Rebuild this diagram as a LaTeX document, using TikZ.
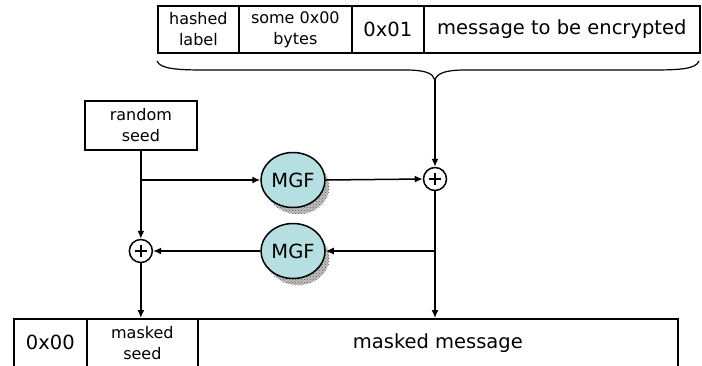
\documentclass[tikz,border=0pt]{standalone}
\usepackage{fontspec}
\setmainfont{DejaVu Sans}
\usetikzlibrary{shapes.geometric,arrows.meta,patterns}
\definecolor{mgfblue}{RGB}{182,223,226}
\tikzset{
  cell/.style={draw, line width=1.7pt, inner sep=0pt, anchor=north west, align=center,
    font=\fontsize{19.5}{22}\selectfont},
  smalltxt/.style={font=\fontsize{16}{21}\selectfont},
  wire/.style={line width=1.5pt},
  arr/.style={wire, -{Latex[length=8pt,width=7pt]}},
  xorop/.style={circle, draw, line width=1.5pt, minimum size=23pt, inner sep=0pt,
    path picture={\draw[line width=1.5pt]
      ([xshift=-6pt]path picture bounding box.center) -- ([xshift=6pt]path picture bounding box.center)
      ([yshift=-6pt]path picture bounding box.center) -- ([yshift=6pt]path picture bounding box.center);}},
  mgf/.style={ellipse, draw, line width=1.5pt, fill=mgfblue, minimum width=64pt, minimum height=55pt,
    inner sep=0pt, font=\fontsize{19.5}{22}\selectfont},
  grainbase/.style={fill=black!25},
  grain/.style={pattern=crosshatch dots, pattern color=black!65}
}
\begin{document}
\begin{tikzpicture}[x=1pt, y=-1pt]
\useasboundingbox (0,0) rectangle (702,365);
\clip (0,0) rectangle (702,365);

% input block: label hash, padding, separator, message
\node[cell, smalltxt, minimum width=81pt,  minimum height=47pt] (hl)  at (157,5) {hashed\\label};
\node[cell, smalltxt, minimum width=113pt, minimum height=47pt] (pad) at (238,5) {some 0x00\\bytes};
\node[cell, minimum width=72pt,  minimum height=47pt] (one) at (351,5) {0x01};
\node[cell, minimum width=276pt, minimum height=47pt] (msg) at (423,5) {message to be encrypted};

% brace gathering the whole data block
\coordinate (tip) at (435,80);
\draw[wire, line width=1.2pt] (157,61) .. controls (160,69) and (178,70) .. (205,70)
  -- (405,70) .. controls (425,70) and (433,73) .. (tip)
  .. controls (437,73) and (446,70) .. (465,70)
  -- (652,70) .. controls (680,70) and (696,69) .. (699,61);

% seed
\node[cell, smalltxt, minimum width=112pt, minimum height=49pt] (seed) at (84,100) {random\\seed};

% XOR points
\node[xorop] (xr) at (435,179) {};
\node[xorop] (xl) at (seed.south |- 0,251) {};

% mask generation functions with grainy shadows
\foreach \c in {(298,187),(298,258)}{
  \fill[grainbase] \c ellipse [x radius=31pt, y radius=27pt];
  \fill[grain] \c ellipse [x radius=32pt, y radius=27.5pt];
}
\node[mgf] (m1) at (293,180) {MGF};
\node[mgf] (m2) at (293,251) {MGF};

% output block
\node[cell, minimum width=73pt,  minimum height=48pt] (z)  at (13,318) {0x00};
\node[cell, smalltxt, minimum width=111pt, minimum height=48pt] (ms) at (86,318) {masked\\seed};
\node[cell, minimum width=480pt, minimum height=48pt] (mm) at (197,318) {masked message};

% connections
\coordinate (js) at (seed.south |- m1.west);
\coordinate (jm) at (xr.south |- m2.east);
\draw[arr] (tip) -- (xr.north);
\draw[arr] (seed.south) -- (xl.north);
\draw[arr] (js) -- (m1.west);
\draw[arr] (m1.east) -- (xr.west);
\draw[arr] (xr.south) -- (xr.south |- mm.north);
\draw[arr] (jm) -- (m2.east);
\draw[arr] (m2.west) -- (xl.east);
\draw[arr] (xl.south) -- (xl.south |- ms.north);
\end{tikzpicture}
\end{document}
